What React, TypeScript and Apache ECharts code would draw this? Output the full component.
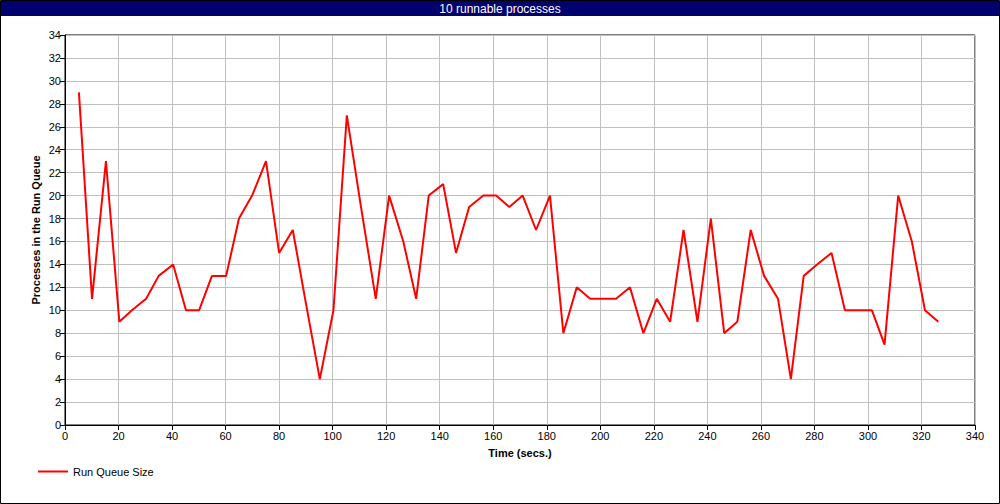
import React, { useEffect, useRef } from "react";
import * as echarts from "echarts";

const titleText = "10 runnable processes";
const seriesName = "Run Queue Size";
const xAxisName = "Time (secs.)";
const yAxisName = "Processes in the Run Queue";

const timeValues = [
  5.2, 10.1, 15.3, 20.3, 25.0, 30.3, 35.0, 40.4, 45.2, 50.1,
  54.9, 60.2, 65.0, 69.9, 75.1, 80.0, 85.1, 90.1, 95.2, 100.3,
  105.3, 110.6, 116.1, 121.1, 126.4, 131.2, 135.9, 141.3, 146.1, 151.0,
  156.3, 161.1, 166.0, 171.0, 176.0, 181.2, 186.2, 191.2, 196.2, 201.0,
  205.9, 211.1, 216.1, 221.1, 226.1, 231.1, 236.3, 241.3, 246.3, 251.2,
  256.2, 261.2, 266.4, 271.2, 276.0, 281.0, 286.4, 291.4, 296.3, 301.5,
  306.2, 311.3, 316.4, 321.3, 326.3,
];

const queueSizes = [
  29, 11, 23, 9, 10, 11, 13, 14, 10, 10,
  13, 13, 18, 20, 23, 15, 17, 10.5, 4, 10,
  27, 19, 11, 20, 16, 11, 20, 21, 15, 19,
  20, 20, 19, 20, 17, 20, 8, 12, 11, 11,
  11, 12, 8, 11, 9, 17, 9, 18, 8, 9,
  17, 13, 11, 4, 13, 14, 15, 10, 10, 10,
  7, 20, 16, 10, 9,
];

const FONT = "'Liberation Sans', Arial, sans-serif";

export default function App() {
  const ref = useRef<HTMLDivElement>(null);

  useEffect(() => {
    document.body.style.margin = "0";
    if (!ref.current) return;
    const chart = echarts.init(ref.current, null, { renderer: "svg" });
    const data = timeValues.map((t, i) => [t, queueSizes[i]]);
    chart.setOption({
      animation: false,
      backgroundColor: "#ffffff",
      textStyle: { fontFamily: FONT },
      graphic: [
        {
          type: "rect",
          shape: { x: 0.5, y: 0.5, width: 999, height: 503 },
          style: { fill: "none", stroke: "#000000", lineWidth: 1 },
          z: 100,
        },
        {
          type: "rect",
          shape: { x: 1, y: 1, width: 998, height: 15 },
          style: { fill: "#00006e" },
          z: 99,
        },
        {
          type: "text",
          x: 500,
          y: 9,
          style: {
            text: titleText,
            fill: "#ffffff",
            font: `12px ${FONT}`,
            align: "center",
            verticalAlign: "middle",
          },
          z: 101,
        },
      ],
      grid: {
        left: 65,
        right: 25,
        top: 35,
        bottom: 79,
        show: true,
        borderColor: "#000000",
        borderWidth: 1,
        backgroundColor: "transparent",
      },
      legend: {
        left: 38,
        top: 466,
        padding: 0,
        itemWidth: 30,
        itemHeight: 2,
        itemGap: 10,
        textStyle: { color: "#000000", fontSize: 11, fontFamily: FONT },
        data: [{ name: seriesName, icon: "rect", itemStyle: { color: "#ff0000" } }],
      },
      xAxis: {
        type: "value",
        min: 0,
        max: 340,
        interval: 20,
        name: xAxisName,
        nameLocation: "middle",
        nameGap: 22,
        nameTextStyle: { color: "#000000", fontSize: 11, fontWeight: "bold", fontFamily: FONT },
        axisLine: { show: true, lineStyle: { color: "#000000", width: 1 } },
        axisTick: { show: true, length: 5, lineStyle: { color: "#000000" } },
        axisLabel: { color: "#000000", fontSize: 11, margin: 5, fontFamily: FONT },
        splitLine: { show: true, lineStyle: { color: "#c0c0c0", width: 1 } },
      },
      yAxis: {
        type: "value",
        min: 0,
        max: 34,
        interval: 2,
        name: yAxisName,
        nameLocation: "middle",
        nameGap: 24,
        nameMoveOverlap: false,
        nameTextStyle: { color: "#000000", fontSize: 11, fontWeight: "bold", fontFamily: FONT },
        axisLine: { show: true, lineStyle: { color: "#000000", width: 1 } },
        axisTick: { show: true, length: 5, lineStyle: { color: "#000000" } },
        axisLabel: { color: "#000000", fontSize: 11, margin: 4, fontFamily: FONT },
        splitLine: { show: true, lineStyle: { color: "#c0c0c0", width: 1 } },
      },
      series: [
        {
          name: seriesName,
          type: "line",
          data,
          symbol: "none",
          lineStyle: { color: "#ff0000", width: 2 },
          itemStyle: { color: "#ff0000" },
        },
      ],
    });
    return () => chart.dispose();
  }, []);

  return <div ref={ref} style={{ width: 1000, height: 504 }} />;
}
